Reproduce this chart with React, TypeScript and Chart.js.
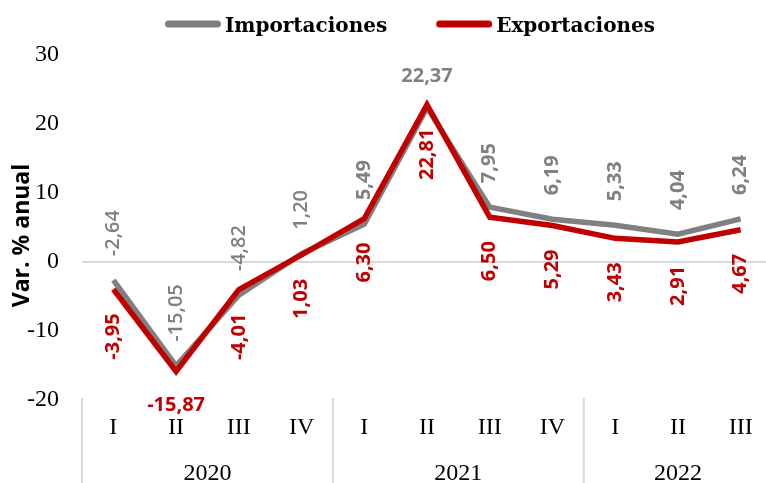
import { useEffect, useRef } from "react";
import { Chart, registerables } from "chart.js";

Chart.register(...registerables);

const quarters = ["I", "II", "III", "IV", "I", "II", "III", "IV", "I", "II", "III"];
const years = ["2020", "2021", "2022"];
const yearSpans = [4, 4, 3];
const importaciones = [-2.64, -15.05, -4.82, 1.2, 5.49, 22.37, 7.95, 6.19, 5.33, 4.04, 6.24];
const exportaciones = [-3.95, -15.87, -4.01, 1.03, 6.3, 22.81, 6.5, 5.29, 3.43, 2.91, 4.67];
const yMin = -20;
const yMax = 30;
const yStep = 10;

const GRAY = "#808080";
const RED = "#c00000";
const SEP = "#d9d9d9";
const SERIF = '"Liberation Serif", serif';
const LEGEND_SERIF = '"DejaVu Serif", serif';
const SANS = '"Open Sans", sans-serif';

const fmt = (v: number) => v.toFixed(2).replace(".", ",");

const overlay = {
  id: "overlay",
  afterDatasetsDraw(chart: any, _args: any, opts: any) {
    const ctx = chart.ctx as CanvasRenderingContext2D;
    chart.data.datasets.forEach((ds: any, di: number) => {
      const meta = chart.getDatasetMeta(di);
      const above = di === 0;
      const horiz: number[] = opts.horizontal[di] || [];
      const light: number[] = opts.light[di] || [];
      meta.data.forEach((pt: any, i: number) => {
        const text = fmt(ds.data[i]);
        ctx.save();
        ctx.fillStyle = ds.borderColor;
        ctx.font = `${light.includes(i) ? "600" : "bold"} 20px ${SANS}`;
        if (horiz.includes(i)) {
          ctx.textAlign = "center";
          ctx.textBaseline = "middle";
          ctx.fillText(text, pt.x, above ? pt.y - 31 : pt.y + 34);
        } else {
          ctx.translate(pt.x, pt.y);
          ctx.rotate(-Math.PI / 2);
          ctx.textBaseline = "middle";
          if (above) {
            ctx.textAlign = "left";
            ctx.fillText(text, 24, 0);
          } else {
            ctx.textAlign = "right";
            ctx.fillText(text, -24, 0);
          }
        }
        ctx.restore();
      });
    });
  },
  afterDraw(chart: any) {
    const ctx = chart.ctx as CanvasRenderingContext2D;
    const { left, bottom, top } = chart.chartArea;
    const xs = chart.scales.x;
    const H = chart.height;
    const step = xs.getPixelForValue(1) - xs.getPixelForValue(0);
    // group separators
    ctx.save();
    ctx.strokeStyle = SEP;
    ctx.lineWidth = 2;
    let idx = 0;
    const bounds: number[] = [left];
    yearSpans.forEach((n) => {
      idx += n;
      bounds.push(xs.getPixelForValue(idx - 1) + step / 2);
    });
    bounds.forEach((bx) => {
      ctx.beginPath();
      ctx.moveTo(bx, bottom - 2);
      ctx.lineTo(bx, H);
      ctx.stroke();
    });
    // year labels
    ctx.fillStyle = "#000";
    ctx.font = `24px ${SERIF}`;
    ctx.textAlign = "center";
    ctx.textBaseline = "alphabetic";
    years.forEach((y, k) => {
      ctx.fillText(y, (bounds[k] + bounds[k + 1]) / 2, 480);
    });
    // axis title
    ctx.save();
    ctx.translate(22, (top + bottom) / 2 + 8);
    ctx.rotate(-Math.PI / 2);
    ctx.font = `bold 23px ${SANS}`;
    ctx.textBaseline = "middle";
    ctx.textAlign = "center";
    ctx.fillText("Var. % anual", 0, 0);
    ctx.restore();
    // legend
    ctx.font = `bold 20px ${LEGEND_SERIF}`;
    ctx.textAlign = "left";
    const items = chart.data.datasets.map((d: any) => ({ label: d.label, color: d.borderColor }));
    const sw = 56, gap = 4, spacing = 49;
    const widths = items.map((it: any) => ctx.measureText(it.label).width);
    const total =
      items.reduce((s: number, _: any, k: number) => s + sw + gap + widths[k], 0) + spacing * (items.length - 1);
    let x = 410 - total / 2;
    const ly = 24;
    items.forEach((it: any, k: number) => {
      ctx.strokeStyle = it.color;
      ctx.lineWidth = 7;
      ctx.lineCap = "round";
      ctx.beginPath();
      ctx.moveTo(x + 3.5, ly);
      ctx.lineTo(x + sw - 3.5, ly);
      ctx.stroke();
      ctx.fillStyle = "#000";
      ctx.textBaseline = "alphabetic";
      ctx.fillText(it.label, x + sw + gap, 32);
      x += sw + gap + widths[k] + spacing;
    });
    ctx.restore();
  },
};

export default function App() {
  const ref = useRef<HTMLCanvasElement>(null);
  useEffect(() => {
    document.body.style.margin = "0";
    document.body.style.overflow = "hidden";
    const chart = new Chart(ref.current!, {
      type: "line",
      data: {
        labels: quarters,
        datasets: [
          {
            label: "Importaciones",
            data: importaciones,
            borderColor: GRAY,
            backgroundColor: GRAY,
            borderWidth: 5.5,
            pointRadius: 0,
            tension: 0,
            order: 2,
          },
          {
            label: "Exportaciones",
            data: exportaciones,
            borderColor: RED,
            backgroundColor: RED,
            borderWidth: 5.5,
            pointRadius: 0,
            tension: 0,
            order: 1,
          },
        ],
      },
      options: {
        responsive: false,
        animation: false,
        devicePixelRatio: 1,
        layout: { padding: { top: 55, left: 0, right: 0, bottom: 0 } },
        plugins: {
          legend: { display: false },
          tooltip: { enabled: false },
          overlay: { horizontal: [[5], [1]], light: [[0, 1, 2, 3], []] },
        } as any,
        scales: {
          x: {
            type: "category",
            offset: true,
            grid: { display: false, drawTicks: false },
            border: { display: false },
            ticks: {
              color: "#000",
              font: { family: SERIF, size: 24 },
              padding: 13,
              maxRotation: 0,
              autoSkip: false,
            },
            afterFit: (s: any) => {
              s.height = 83;
            },
          },
          y: {
            min: yMin,
            max: yMax,
            grid: {
              drawTicks: false,
              lineWidth: 2,
              color: (c: any) => (c.tick && c.tick.value === 0 ? SEP : "rgba(0,0,0,0)"),
            },
            border: { display: false },
            ticks: { stepSize: yStep, color: "#000", font: { family: SERIF, size: 24 }, padding: 23 },
            afterFit: (s: any) => {
              s.width = 82;
            },
          },
        },
      },
      plugins: [overlay],
    });
    return () => chart.destroy();
  }, []);
  return (
    <div style={{ width: 772, height: 483, position: "relative", background: "#fff" }}>
      <canvas ref={ref} width={772} height={483} style={{ display: "block" }} />
    </div>
  );
}
